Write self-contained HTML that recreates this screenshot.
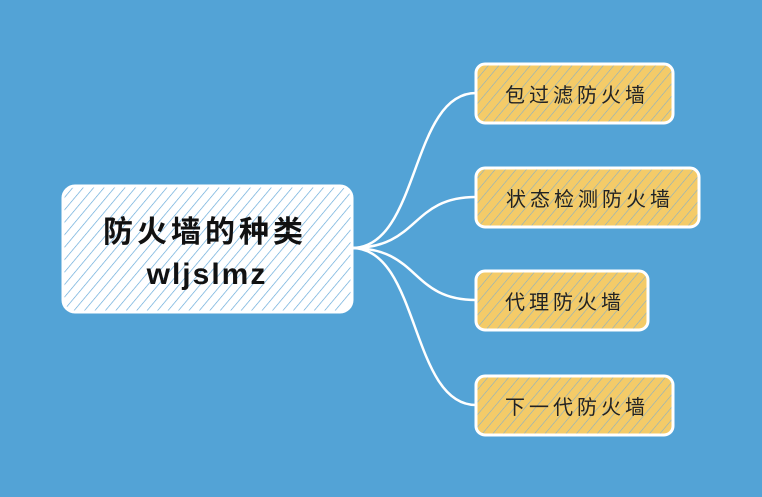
<!DOCTYPE html>
<html><head><meta charset="utf-8"><style>
html,body{margin:0;padding:0;background:#53a3d6;}
svg{display:block}
</style></head><body>
<svg width="762" height="497" viewBox="0 0 762 497" xmlns="http://www.w3.org/2000/svg">
<defs>
<pattern id="hw" width="8" height="8" patternUnits="userSpaceOnUse" patternTransform="rotate(40)">
<rect width="8" height="8" fill="#ffffff"/>
<line x1="0" y1="0" x2="0" y2="8" stroke="#5fa6d8" stroke-width="1.3"/>
</pattern>
<pattern id="hy" width="8" height="8" patternUnits="userSpaceOnUse" patternTransform="rotate(40)">
<rect width="8" height="8" fill="#f4cb68"/>
<line x1="0" y1="0" x2="0" y2="8" stroke="#7faecd" stroke-width="1.1"/>
</pattern>
</defs>
<rect width="762" height="497" fill="#53a3d6"/>
<g fill="none" stroke="#ffffff" stroke-width="2.5">
<path d="M352 248 C420 248 410 93 476 93"/>
<path d="M352 248 C420 248 410 197 476 197"/>
<path d="M352 248 C420 248 410 300 476 300"/>
<path d="M352 248 C420 248 410 405 476 405"/>
</g>
<rect x="63" y="186" width="289" height="126" rx="12" fill="url(#hw)" stroke="#ffffff" stroke-width="3"/>
<text x="205" y="242" text-anchor="middle" font-family="'Liberation Sans','Noto Sans CJK SC',sans-serif" font-size="30" font-weight="bold" letter-spacing="4" fill="#111">防火墙的种类</text>
<text x="207" y="284" text-anchor="middle" font-family="'Liberation Sans','Noto Sans CJK SC',sans-serif" font-size="30" font-weight="bold" letter-spacing="2" fill="#111">wljslmz</text>
<g stroke="#ffffff" stroke-width="3" fill="url(#hy)">
<rect x="476" y="64" width="197" height="59" rx="9"/>
<rect x="476" y="168" width="223" height="59" rx="9"/>
<rect x="476" y="271" width="172" height="59" rx="9"/>
<rect x="476" y="376" width="197" height="59" rx="9"/>
</g>
<g font-family="'Liberation Sans','Noto Sans CJK SC',sans-serif" font-size="20" letter-spacing="4" fill="#222" text-anchor="middle">
<text x="577" y="102">包过滤防火墙</text>
<text x="590" y="206">状态检测防火墙</text>
<text x="565" y="309">代理防火墙</text>
<text x="577" y="414">下一代防火墙</text>
</g>
</svg>
</body></html>
